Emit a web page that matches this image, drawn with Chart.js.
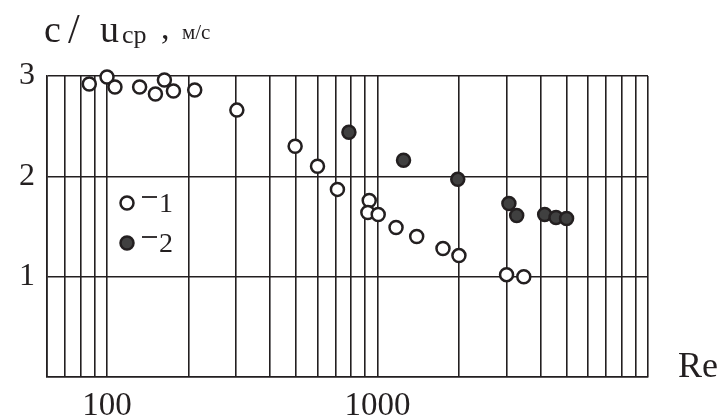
<!DOCTYPE html>
<html>
<head>
<meta charset="utf-8">
<script src="https://cdn.jsdelivr.net/npm/chart.js@4.4.1/dist/chart.umd.min.js"></script>
<style>
  html, body { margin: 0; padding: 0; background: #fff; }
  #wrap { width: 723px; height: 417px; }
</style>
</head>
<body>
<div id="wrap"><canvas id="chart" width="723" height="417"></canvas></div>
<script>
// Series 1 (open markers)
const reOpen = [86, 100, 107, 132, 151, 163, 176, 211, 302, 496, 600, 711, 932, 921, 1006, 1171, 1396, 1746, 2000, 3000, 3474];
const cOpen  = [2.92, 2.99, 2.89, 2.89, 2.82, 2.96, 2.85, 2.86, 2.66, 2.30, 2.10, 1.87, 1.76, 1.64, 1.62, 1.49, 1.40, 1.28, 1.21, 1.02, 1.00];

// Series 2 (filled markers)
const reFilled = [784, 1248, 1980, 3060, 3270, 4150, 4570, 5000];
const cFilled  = [2.44, 2.16, 1.97, 1.73, 1.61, 1.62, 1.59, 1.58];

// Axis grid / tick labels
const reGrid = [60, 70, 80, 90, 100, 200, 300, 400, 500, 600, 700, 800, 900,
                1000, 2000, 3000, 4000, 5000, 6000, 7000, 8000, 9000, 10000];
const reLabels = [100, 1000];
const cTicks = [0, 1, 2, 3];

const INK = '#231f20';
const SERIF = '"Liberation Serif", "Times New Roman", serif';

const toPoints = (xs, ys) => xs.map((x, i) => ({ x, y: ys[i] }));

// Title, legend and axis name
const extras = {
  id: 'extras',
  afterDraw(chart) {
    const ctx = chart.ctx;
    ctx.save();
    ctx.fillStyle = INK;
    ctx.textBaseline = 'alphabetic';
    ctx.textAlign = 'left';

    // y-axis title: c / u_cp , м/с
    ctx.font = '38px ' + SERIF;
    ctx.fillText('c', 44, 42);
    ctx.font = '42px ' + SERIF;
    ctx.fillText('/', 68, 43);
    ctx.font = '38px ' + SERIF;
    ctx.fillText('u', 100, 42);
    ctx.font = '26px ' + SERIF;
    ctx.fillText('cp', 122, 43);
    ctx.font = '34px ' + SERIF;
    ctx.fillText(',', 161, 39);
    ctx.font = '21px ' + SERIF;
    ctx.fillText('м/с', 182, 39);

    // x-axis title
    ctx.font = '36px ' + SERIF;
    ctx.fillText('Re', 678, 377);

    // legend
    const items = [
      { y: 203, fill: '#ffffff', label: '1' },
      { y: 243, fill: '#404040', label: '2' },
    ];
    items.forEach(it => {
      ctx.beginPath();
      ctx.arc(127, it.y, 6.5, 0, Math.PI * 2);
      ctx.fillStyle = it.fill;
      ctx.fill();
      ctx.lineWidth = 2.5;
      ctx.strokeStyle = INK;
      ctx.stroke();

      ctx.beginPath();
      ctx.lineWidth = 1.8;
      ctx.moveTo(142, it.y - 6);
      ctx.lineTo(157, it.y - 6);
      ctx.stroke();

      ctx.fillStyle = INK;
      ctx.font = '28px ' + SERIF;
      ctx.fillText(it.label, 159, it.y + 9);
    });
    ctx.restore();
  }
};

new Chart(document.getElementById('chart').getContext('2d'), {
  type: 'scatter',
  data: {
    datasets: [
      {
        label: '1',
        data: toPoints(reOpen, cOpen),
        pointStyle: 'circle',
        pointRadius: 6.5,
        pointBorderWidth: 2.5,
        pointBackgroundColor: '#ffffff',
        pointBorderColor: INK,
        clip: false,
      },
      {
        label: '2',
        data: toPoints(reFilled, cFilled),
        pointStyle: 'circle',
        pointRadius: 6.5,
        pointBorderWidth: 2.5,
        pointBackgroundColor: '#404040',
        pointBorderColor: INK,
        clip: false,
      },
    ],
  },
  options: {
    responsive: false,
    animation: false,
    layout: { padding: { top: 76, right: 75, left: 0, bottom: 0 } },
    plugins: {
      legend: { display: false },
      tooltip: { enabled: false },
    },
    scales: {
      x: {
        type: 'logarithmic',
        min: 60,
        max: 10000,
        afterBuildTicks: s => { s.ticks = reGrid.map(v => ({ value: v })); },
        afterFit: s => { s.height = 40; },
        grid: { color: INK, lineWidth: 1.6, drawTicks: false },
        border: { color: INK, width: 1.6 },
        ticks: {
          autoSkip: false,
          maxRotation: 0,
          padding: 10,
          color: INK,
          font: { family: SERIF, size: 33 },
          callback: v => reLabels.includes(v) ? String(v) : '',
        },
      },
      y: {
        min: 0,
        max: 3,
        afterBuildTicks: s => { s.ticks = cTicks.map(v => ({ value: v })); },
        afterFit: s => { s.width = 47; },
        grid: { color: INK, lineWidth: 1.6, drawTicks: false },
        border: { color: INK, width: 1.6 },
        ticks: {
          padding: 12,
          color: INK,
          font: { family: SERIF, size: 32 },
          callback: v => v === 0 ? '' : String(v),
        },
      },
    },
  },
  plugins: [extras],
});
</script>
</body>
</html>
